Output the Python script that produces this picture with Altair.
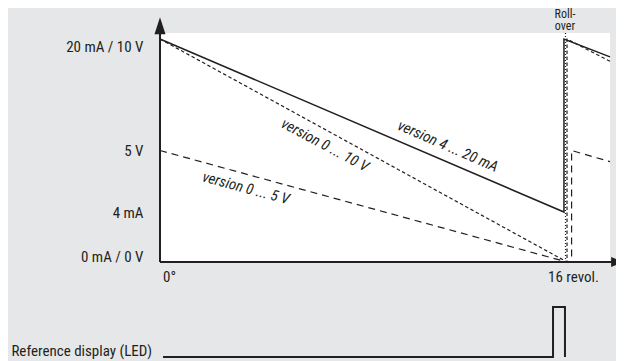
import altair as alt
import pandas as pd

# ---- data (x in revolutions, y as fraction of full scale: 1 = 20 mA / 10 V) ----
x_max = 17.69          # right edge of the white plot area (revolutions)
y_max = 1.027          # top edge of the white plot area

solid_x = [0, 15.88, 15.88, 17.69]      # version 4 ... 20 mA
solid_y = [1.0, 0.224, 1.0, 0.92]
v10_x = [0, 16.0, 16.0, 17.69]          # version 0 ... 10 V
v10_y = [1.0, 0.0, 1.0, 0.90]
v5_x = [0, 16.0, 16.18, 16.18, 17.69]   # version 0 ... 5 V
v5_y = [0.5, 0.0, 0.0, 0.5, 0.45]
roll_x = [15.94, 15.94]                 # roll-over marker
roll_y = [0.0, 1.027]

y_tick_values = [0, 0.224, 0.5, 1.0]
y_tick_labels = ["0 mA / 0 V", "4 mA", "5 V", "20 mA / 10 V"]
x_tick_values = [0, 16]
x_tick_labels = ["0°", "16 revol."]

axis_x_end = [17.97]    # arrow tip centres
axis_y_end = [1.06]

led_x = [0.12, 15.45, 15.45, 15.92, 15.92]
led_level = [0, 0, 1, 1, 0]
led_label_x = [-0.31]

line_labels = ["version 4 ... 20 mA", "version 0 ... 10 V", "version 0 ... 5 V"]
line_label_x = [11.32, 6.49, 3.38]
line_label_y = [0.52, 0.525, 0.332]

roll_label_x = [15.92]
roll_label_y = [1.083]

# ---- styling ----
INK = "#231f20"
BG = "#e6e7e8"
FONT = "'Liberation Sans Narrow', 'Roboto Condensed', 'Arial Narrow', Roboto, sans-serif"
FS = 15


def expr_map(values, labels):
    parts = [f"datum.value == {v} ? '{l}'" for v, l in zip(values, labels)]
    return " : ".join(parts) + " : ''"


xscale = alt.Scale(domain=[0, x_max], nice=False, zero=False)
yscale = alt.Scale(domain=[0, y_max], nice=False, zero=False)

X = alt.X(
    "x:Q", scale=xscale, title=None,
    axis=alt.Axis(
        values=x_tick_values, labelExpr=expr_map(x_tick_values, x_tick_labels),
        domain=False, ticks=False, grid=False, labelPadding=7,
        labelFont=FONT, labelFontSize=FS, labelColor=INK,
        labelOffset={"condition": [{"test": "datum.value == 0", "value": 2.5}],
                     "value": 6},
    ),
)
Y = alt.Y(
    "y:Q", scale=yscale, title=None,
    axis=alt.Axis(
        values=y_tick_values, labelExpr=expr_map(y_tick_values, y_tick_labels),
        domain=False, ticks=False, grid=False, labelPadding=17,
        labelFont=FONT, labelFontSize=FS, labelColor=INK,
        labelOffset={"condition": [{"test": "datum.value >= 1", "value": 7},
                                   {"test": "datum.value <= 0", "value": -6}],
                     "value": 0},
    ),
)


def line_layer(xs, ys, **mark):
    df = pd.DataFrame({"x": xs, "y": ys, "i": list(range(len(xs)))})
    return alt.Chart(df).mark_line(color=INK, **mark).encode(
        x=X, y=Y, order=alt.Order("i:Q"))


solid = line_layer(solid_x, solid_y, strokeWidth=1.5)
v10 = line_layer(v10_x, v10_y, strokeWidth=1.2, strokeDash=[3.5, 2.5])
v5 = line_layer(v5_x, v5_y, strokeWidth=1.2, strokeDash=[7, 5])
roll = line_layer(roll_x, roll_y, strokeWidth=1.2, strokeDash=[1, 2])

# axes with arrows
yaxis_rule = alt.Chart(pd.DataFrame({"x": [0], "y": [0], "y2": axis_y_end})).mark_rule(
    color=INK, strokeWidth=2).encode(x=X, y=Y, y2="y2:Q")
xaxis_rule = alt.Chart(pd.DataFrame({"x": [0], "x2": axis_x_end, "y": [0]})).mark_rule(
    color=INK, strokeWidth=2).encode(x=X, x2="x2:Q", y=Y)
y_arrow = alt.Chart(pd.DataFrame({"x": [0], "y": axis_y_end})).mark_point(
    shape="M0,-1L0.65,1L-0.65,1Z", filled=True, size=289, color=INK, opacity=1
).encode(x=X, y=Y)
x_arrow = alt.Chart(pd.DataFrame({"x": axis_x_end, "y": [0]})).mark_point(
    shape="M1,0L-1,-0.85L-1,0.85Z", filled=True, size=144, color=INK, opacity=1
).encode(x=X, y=Y)

# line labels
angles = [23.5, 28, 15]
label_layers = []
for t, lx, ly, ang in zip(line_labels, line_label_x, line_label_y, angles):
    df = pd.DataFrame({"x": [lx], "y": [ly], "t": [t]})
    label_layers.append(
        alt.Chart(df).mark_text(
            angle=ang, font=FONT, fontSize=FS, fontStyle="italic", color=INK,
            align="center", baseline="middle"
        ).encode(x=X, y=Y, text="t:N")
    )

roll_text = alt.Chart(pd.DataFrame({"x": roll_label_x, "y": roll_label_y,
                                    "t": ["Roll-\nover"]})).mark_text(
    lineBreak="\n", lineHeight=12.5, font=FONT, fontSize=12, color=INK,
    align="center", baseline="bottom"
).encode(x=X, y=Y, text="t:N")

main = alt.layer(solid, v10, v5, roll, yaxis_rule, xaxis_rule, y_arrow, x_arrow,
                 *label_layers, roll_text)

# LED reference display (own vertical scale)
led_scale = alt.Scale(domain=[0, 1], range=[324, 274])
led_df = pd.DataFrame({"x": led_x, "level": led_level, "i": list(range(len(led_x)))})
led_line = alt.Chart(led_df).mark_line(color=INK, strokeWidth=2).encode(
    x=X, y=alt.Y("level:Q", scale=led_scale, axis=None), order=alt.Order("i:Q"))
led_text = alt.Chart(pd.DataFrame({"x": led_label_x, "level": [0],
                                   "t": ["Reference display (LED)"]})).mark_text(
    font=FONT, fontSize=FS, color=INK, align="right", baseline="alphabetic", dy=-1
).encode(x=X, y=alt.Y("level:Q", scale=led_scale, axis=None), text="t:N")
led = alt.layer(led_line, led_text)

chart = alt.layer(main, led).resolve_scale(y="independent").properties(
    width=450, height=229,
    autosize=alt.AutoSizeParams(type="none"),
    padding={"left": 152, "top": 25, "right": 6, "bottom": 99},
    background=BG,
).configure_view(fill="white", strokeWidth=0)

chart.save("out.html", embed_options={"renderer": "svg", "actions": False})
